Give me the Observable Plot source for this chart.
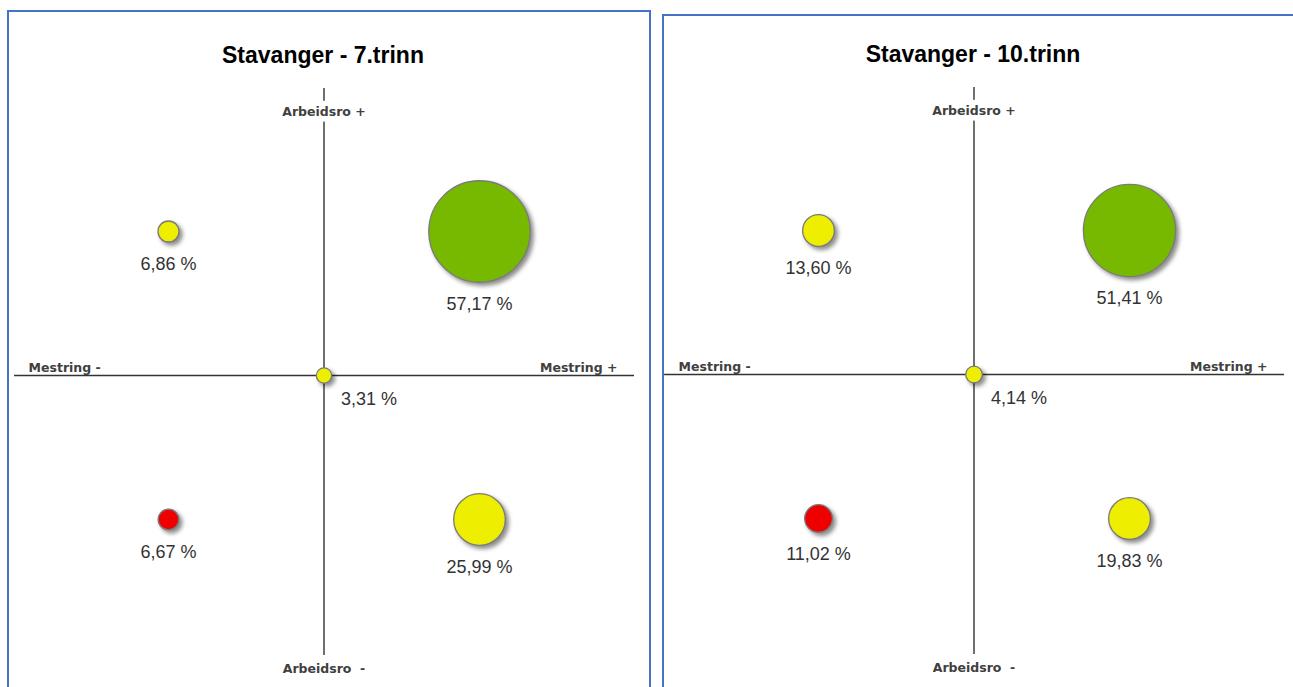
<!DOCTYPE html>
<html>
<head>
<meta charset="utf-8">
<script src="https://cdn.jsdelivr.net/npm/d3@7"></script>
<script src="https://cdn.jsdelivr.net/npm/@observablehq/plot@0.6"></script>
<style>
  html, body { margin: 0; padding: 0; background: #fff; width: 1293px; height: 687px; overflow: hidden; }
  .frame { position: absolute; border: 2px solid #4472C4; width: 640px; height: 700px; box-sizing: content-box; }
  .content { position: absolute; width: 640px; height: 680px; }
  .title { position: absolute; top: 30px; left: 0; width: 628px; text-align: center; line-height: 26px;
           font-family: "Liberation Sans", Arial, sans-serif; font-weight: bold; font-size: 23px; color: #000; }
  .chart { position: absolute; top: 70px; left: 0; }
  .chart svg g[aria-label="dot"] circle { filter: drop-shadow(3px 3px 2px rgba(0,0,0,0.45)); }
</style>
</head>
<body>
<div class="frame" style="left:7px; top:10px;"></div>
<div class="frame" style="left:662px; top:14px;"></div>
<div class="content" id="p1" style="left:9px; top:12px;"><div class="title"></div><div class="chart"></div></div>
<div class="content" id="p2" style="left:659px; top:11px;"><div class="title"></div><div class="chart"></div></div>
<script>
// ---- data ----
const titles = ["Stavanger - 7.trinn", "Stavanger - 10.trinn"];
const quadrants = ["Mestring - / Arbeidsro +", "Mestring + / Arbeidsro +", "Midt", "Mestring - / Arbeidsro -", "Mestring + / Arbeidsro -"];
const mestring = [-1, 1, 0, -1, 1];   // -1 = Mestring -, 0 = midt, 1 = Mestring +
const arbeidsro = [1, 1, 0, -1, -1];  // -1 = Arbeidsro -, 0 = midt, 1 = Arbeidsro +
const status = ["middels", "høy", "middels", "lav", "middels"];
const values7 = [6.86, 57.17, 3.31, 6.67, 25.99];
const values10 = [13.60, 51.41, 4.14, 11.02, 19.83];
const axisLabels = ["Arbeidsro +", "Arbeidsro\u00a0 -", "Mestring -", "Mestring +"];

// ---- chart ----
const W = 640, H = 605;
const fmt = v => v.toFixed(2).replace(".", ",") + " %";
const rOpts = {type: "linear", domain: [0, 60], range: [5, 53]};
const rScale = Plot.scale({r: rOpts});
const labelFont = {fontFamily: "DejaVu Sans, sans-serif", fontSize: 12.5, fontWeight: "bold", fill: "#404040"};
const valueFont = {fontFamily: "Liberation Sans, Arial, sans-serif", fontSize: 18, fill: "#333"};

function chart(values) {
  const rows = values.map((v, i) => ({q: quadrants[i], x: mestring[i], y: arbeidsro[i], v, s: status[i]}));
  const labelMarks = rows.map(d => d.x === 0 && d.y === 0
    ? Plot.text([d], {x: "x", y: "y", text: d => fmt(d.v), dx: 17, dy: 24, textAnchor: "start", ...valueFont})
    : Plot.text([d], {x: "x", y: "y", text: d => fmt(d.v), dy: rScale.apply(d.v) + 22, ...valueFont}));
  return Plot.plot({
    width: W, height: H,
    margin: 0,
    x: {domain: [-1, 1], range: [159, 470], axis: null},
    y: {domain: [-1, 1], range: [437, 149], axis: null},
    r: rOpts,
    color: {domain: ["høy", "middels", "lav"], range: ["#76B900", "#EEEE00", "#EE0000"]},
    style: {background: "transparent", overflow: "visible"},
    marks: [
      Plot.ruleY([0], {x1: -1.99, x2: 1.997, stroke: "#333", strokeWidth: 1.5}),
      Plot.ruleX([0], {y1: 1.993, y2: -1.944, stroke: "#222", strokeWidth: 1.3}),
      Plot.text([axisLabels[0]], {x: 0, y: 1.833, text: d => d, ...labelFont, stroke: "white", strokeWidth: 11}),
      Plot.text([axisLabels[1]], {x: 0, y: -2.035, text: d => d, ...labelFont}),
      Plot.text([axisLabels[2]], {x: -1.9, y: 0, text: d => d, textAnchor: "start", dy: -8, ...labelFont}),
      Plot.text([axisLabels[3]], {x: 1.887, y: 0, text: d => d, textAnchor: "end", dy: -8, ...labelFont}),
      Plot.dot(rows, {x: "x", y: "y", r: "v", fill: "s", stroke: "#7a7a7a", strokeWidth: 1.3, title: "q"}),
      ...labelMarks
    ]
  });
}

[["#p1", values7, titles[0]], ["#p2", values10, titles[1]]].forEach(([id, vals, t]) => {
  const el = document.querySelector(id);
  el.querySelector(".title").textContent = t;
  el.querySelector(".chart").appendChild(chart(vals));
});
</script>
</body>
</html>
